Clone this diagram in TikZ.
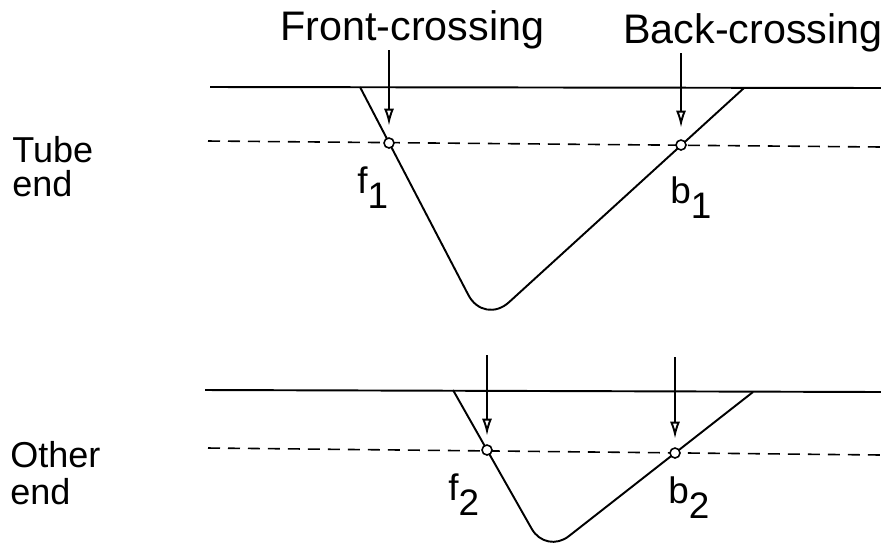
\documentclass[tikz,border=0pt]{standalone}
\usepackage{fontspec}
\setmainfont{Liberation Sans}
\usetikzlibrary{arrows.meta, positioning, calc}
\tikzset{
    % Line styles
    levelline/.style={
        line width=1.1pt,
        black
    },
    halfline/.style={
        line width=0.9pt,
        dash pattern=on 0.24cm off 0.16cm,
        black
    },
    pulseline/.style={
        line width=1.1pt,
        black
    },
    % Crossing points
    crosspoint/.style={
        circle,
        draw,
        fill=white,
        line width=0.9pt,
        minimum size=0.2cm,
        inner sep=0pt
    },
    % Arrow styles
    markarrow/.style={
        -{Latex[open, length=0.34cm, width=0.2cm, line width=1.1pt]},
        line width=0.8pt,
        shorten >=0.17cm
    },
    % Text styles
    sidelabel/.style={
        align=left,
        anchor=base west,
        inner sep=0pt,
        font=\fontsize{20.5}{19}\selectfont
    },
    toplabel/.style={
        anchor=base west,
        inner sep=0pt,
        font=\fontsize{23.5}{26}\selectfont
    },
    pointlabel/.style={
        anchor=base west,
        inner sep=0pt,
        font=\fontsize{21}{24}\selectfont
    }
}
\newcommand{\lowsub}[2]{#1\raisebox{-0.42em}{#2}}

\begin{document}
\begin{tikzpicture}[x=0.02cm, y=-0.02cm]
                \useasboundingbox (0,0) rectangle (881,542);
                \clip (0,0) rectangle (881,542);

                % Headings
                \node[toplabel] (front) at (280,40) {Front-crossing};
                \node[toplabel] (back) at (623,43) {Back-crossing};

                % Tube end graph
                \node[sidelabel] (tube) at (12,196) {Tube\\end};
                \coordinate (tl) at (210,87);
                \coordinate (tr) at (881,88);
                \coordinate (hl) at (208,141);
                \coordinate (hr) at (881,147);
                \draw[levelline] (tl) -- (tr);
                \draw[halfline] (hl) -- (hr);
                \draw[pulseline, rounded corners=0.68cm] (360,87) -- (484,325) -- (744,88);
                \node[crosspoint] (f1) at (389,143) {};
                \node[crosspoint] (b1) at (681,145) {};
                \coordinate (fa1) at (f1 |- 0,50);
                \coordinate (ba1) at (b1 |- 0,53);
                \draw[markarrow, shorten >=0.23cm] (fa1) -- (f1);
                \draw[markarrow, shorten >=0.23cm] (ba1) -- (b1);
                \node[pointlabel] (lf1) at (357,193) {\lowsub{f}{1}};
                \node[pointlabel] (lb1) at (670,203) {\lowsub{b}{1}};

                % Other end graph
                \node[sidelabel, font=\fontsize{20.5}{20.5}\selectfont] (other) at (10,504) {Other\\end};
                \coordinate (ol) at (205,390);
                \coordinate (or) at (881,392);
                \coordinate (dl) at (208,448);
                \coordinate (dr) at (881,455);
                \draw[levelline] (ol) -- (or);
                \draw[halfline] (dl) -- (dr);
                \draw[pulseline, rounded corners=0.58cm] (453,390) -- (546,554) -- (753,392);
                \node[crosspoint] (f2) at (487,450) {};
                \node[crosspoint] (b2) at (675,453) {};
                \coordinate (fa2) at (f2 |- 0,355);
                \coordinate (ba2) at (b2 |- 0,357);
                \draw[markarrow] (fa2) -- (f2);
                \draw[markarrow] (ba2) -- (b2);
                \node[pointlabel] (lf2) at (448,500) {\lowsub{f}{2}};
                \node[pointlabel] (lb2) at (668,503) {\lowsub{b}{2}};
            \end{tikzpicture}
\end{document}
